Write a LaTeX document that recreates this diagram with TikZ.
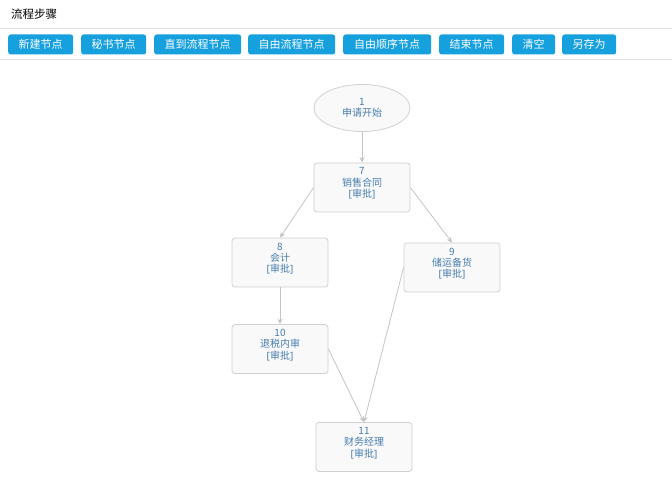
\documentclass[tikz,border=0pt]{standalone}
\usepackage{fontspec}
\setmainfont{Noto Sans CJK SC}
\newfontfamily\latinfont{Noto Sans}
\usetikzlibrary{shapes.geometric,arrows.meta}
\definecolor{btnblue}{RGB}{22,160,222}
\definecolor{nodetext}{RGB}{70,125,175}
\definecolor{nodeline}{RGB}{208,208,208}
\definecolor{nodefill}{RGB}{249,249,249}
\definecolor{conn}{RGB}{196,196,196}
\definecolor{sepline}{RGB}{222,222,222}
\newcommand{\appr}{{\latinfont[}审批{\latinfont]}}
\tikzset{
  btn/.style={draw=none, fill=btnblue, rounded corners=2.5pt, text=white, minimum height=20pt, inner sep=0pt, anchor=west, font=\fontsize{11}{12}\selectfont},
  lbl/.style={align=center, text=nodetext, inner sep=0pt, font=\fontsize{10}{11.3}\selectfont},
  stepbox/.style={rectangle, draw=nodeline, fill=nodefill, rounded corners=3pt, minimum width=96pt, minimum height=49pt, inner sep=0pt, line width=0.8pt},
  startbox/.style={ellipse, draw=nodeline, fill=nodefill, minimum width=96pt, minimum height=47pt, inner sep=0pt, line width=0.8pt},
  conn/.style={draw=conn, line width=0.8pt, -{Stealth[length=5.5pt,width=5pt]}}
}
\begin{document}
\begin{tikzpicture}[x=1pt,y=-1pt]
\useasboundingbox (0,0) rectangle (672,500);
\fill[white] (0,0) rectangle (672,500);
\node[anchor=west, font=\fontsize{11.5}{12}\selectfont, text=black, inner sep=0pt] (title) at (11,14) {流程步骤};
\draw[sepline, line width=1pt] (0,28.5) -- (672,28.5);
\draw[sepline, line width=1pt] (0,59.5) -- (672,59.5);
\node[btn, minimum width=65pt] (b1) at (8,44.5) {新建节点};
\node[btn, minimum width=65pt] (b2) at (81,44.5) {秘书节点};
\node[btn, minimum width=87pt] (b3) at (154,44.5) {直到流程节点};
\node[btn, minimum width=87pt] (b4) at (248,44.5) {自由流程节点};
\node[btn, minimum width=88pt] (b5) at (343,44.5) {自由顺序节点};
\node[btn, minimum width=65pt] (b6) at (439,44.5) {结束节点};
\node[btn, minimum width=43pt] (b7) at (512,44.5) {清空};
\node[btn, minimum width=54pt] (b8) at (562,44.5) {另存为};

\node[startbox, label={[lbl]center:1\\申请开始}] (n1) at (362,108) {};
\node[stepbox, label={[lbl, yshift=4pt]center:7\\销售合同\\\appr}] (n7) at (362,187.5) {};
\node[stepbox, label={[lbl, yshift=4pt]center:8\\会计\\\appr}] (n8) at (280,262.5) {};
\node[stepbox, label={[lbl, yshift=4pt]center:9\\储运备货\\\appr}] (n9) at (452,267.5) {};
\node[stepbox, label={[lbl, yshift=4pt]center:10\\退税内审\\\appr}] (n10) at (280,349) {};
\node[stepbox, label={[lbl, yshift=4pt]center:11\\财务经理\\\appr}] (n11) at (364,447) {};

\draw[conn] (n1.south) -- (n7.north);
\draw[conn] (n7.west) -- (n8.north);
\draw[conn] (n7.east) -- (n9.north);
\draw[conn] (n8.south) -- (n10.north);
\draw[conn] (n10.east) -- (n11.north);
\draw[conn] (n9.west) -- (n11.north);
\end{tikzpicture}
\end{document}
